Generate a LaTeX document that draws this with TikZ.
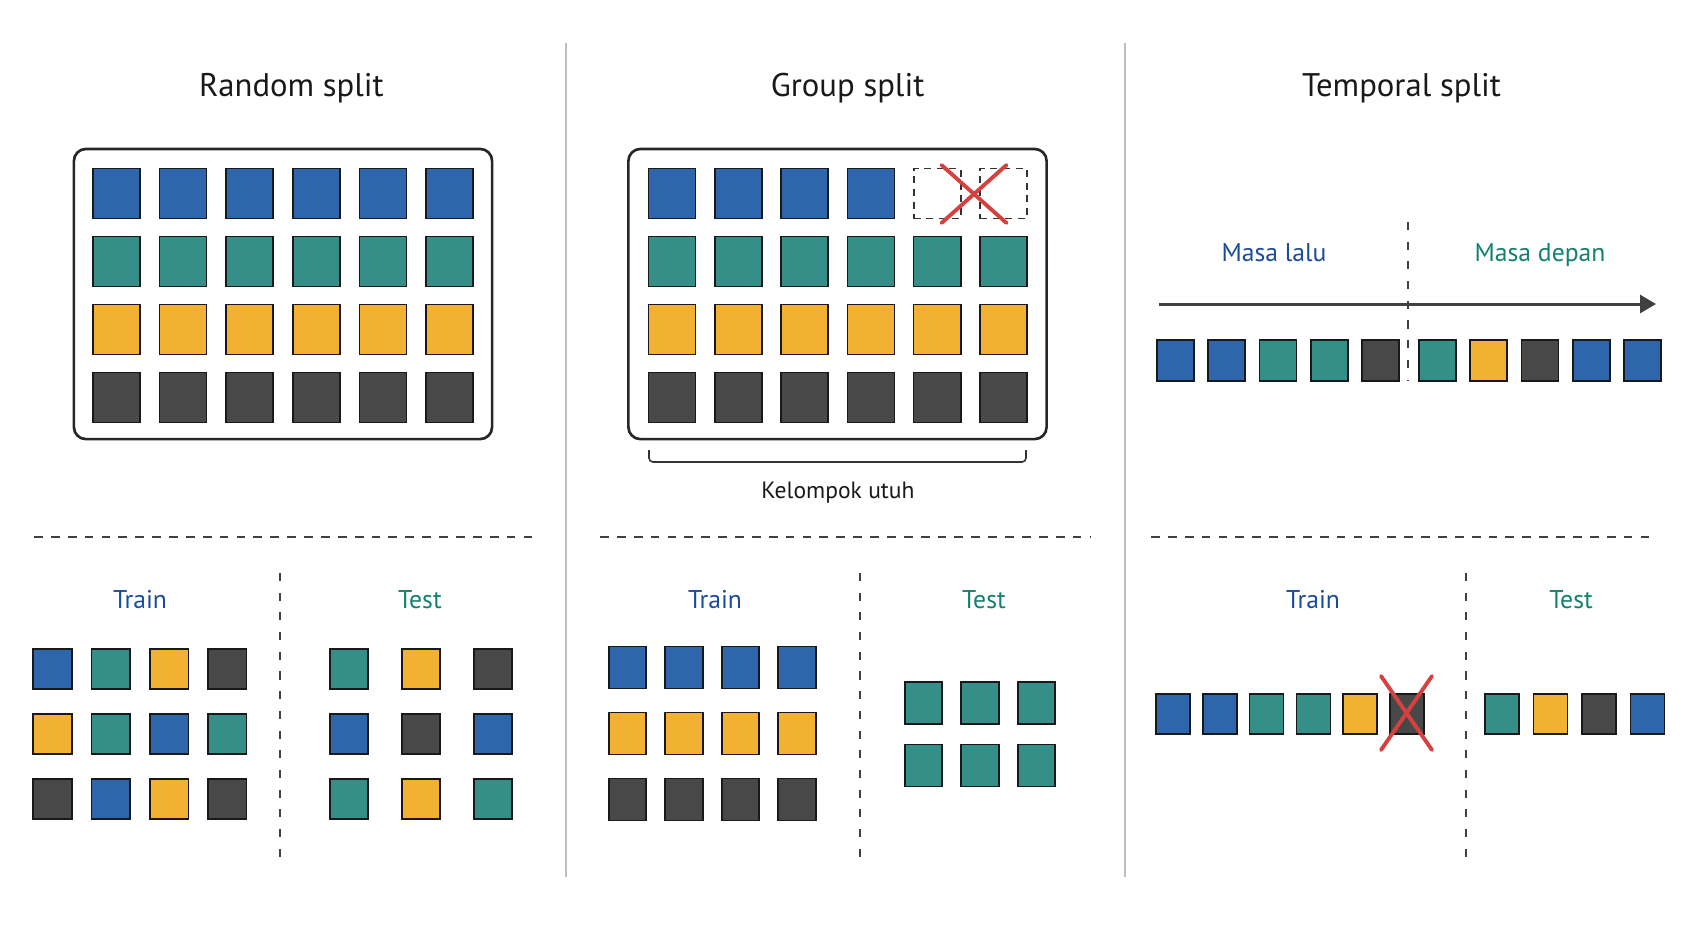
\documentclass[tikz,border=0pt]{standalone}
\usepackage{fontspec}
\setmainfont{PT Sans}
\usetikzlibrary{arrows.meta,positioning}
\definecolor{cB}{HTML}{2E66AC}
\definecolor{cT}{HTML}{358F88}
\definecolor{cY}{HTML}{F2B132}
\definecolor{cD}{HTML}{484848}
\definecolor{tBlue}{HTML}{1B4C9A}
\definecolor{tTeal}{HTML}{13806F}
\definecolor{xRed}{HTML}{D6413F}
\definecolor{sepGray}{HTML}{BDBDBD}
\tikzset{
  cell/.style={draw=black!90,line width=0.45pt,inner sep=0pt},
  bigcell/.style={cell,minimum width=0.47cm,minimum height=0.5cm},
  gone/.style={draw=black!80,line width=0.55pt,dash pattern=on 2pt off 1.6pt,inner sep=0pt,minimum width=0.47cm,minimum height=0.5cm},
  frame/.style={draw=black!85,line width=0.75pt,rounded corners=0.12cm,inner sep=0pt,minimum width=4.18cm,minimum height=2.9cm},
  title/.style={font=\fontsize{9.3}{11}\selectfont,text=black!90,text height=0.75em,text depth=0.25em},
  lbl/.style={font=\fontsize{7.3}{9}\selectfont,text height=0.75em,text depth=0.25em},
  note/.style={font=\fontsize{6.7}{8}\selectfont,text=black!90,text height=0.75em,text depth=0.25em},
  sep/.style={draw=sepGray,line width=0.45pt},
  cut/.style={draw=black!75,line width=0.55pt,dash pattern=on 2.5pt off 2.3pt},
  vcut/.style={draw=black!75,line width=0.55pt,dash pattern=on 2.3pt off 3.3pt},
  xmark/.style={draw=xRed,line width=1.1pt,line cap=round},
  timeline/.style={draw=black!75,line width=0.85pt,-{Triangle[length=0.16cm,width=0.18cm]}},
  bracket/.style={draw=black!80,line width=0.45pt,rounded corners=0.04cm}
}
\begin{document}
\begin{tikzpicture}[x=0.01cm,y=-0.01cm]
  \useasboundingbox (0,0) rectangle (1693,929);
  \draw[sep] (566,43) -- (566,877);
  \draw[sep] (1125,43) -- (1125,877);
  \foreach \xa/\xb in {34/540,600/1090,1151/1657}
    \draw[cut] (\xa,537) -- (\xb,537);
  \foreach \xv in {280,860,1466}
    \draw[vcut] (\xv,573) -- (\xv,858);
  \foreach \x/\t/\n in {291.5/Random split/r,847.6/Group split/g,1401.5/Temporal split/t}
    \node[title] (title-\n) at (\x,88) {\t};

  % random split
  \node[frame] (rbox) at (283,294) {};
  \foreach \c [count=\j] in {cB,cT,cY,cD}
    \foreach \i in {1,...,6}
      \node[bigcell,fill=\c] (r\j\i) at ({49.9+66.6*\i},{125.5+68*\j}) {};
  \node[lbl,text=tBlue] (rtrain) at (140,600) {Train};
  \node[lbl,text=tTeal] (rtest) at (420,600) {Test};
  \foreach \row [count=\j] in {{cB,cT,cY,cD},{cY,cT,cB,cT},{cD,cB,cY,cD}}
    \foreach \c [count=\i] in \row
      \node[cell,fill=\c,minimum width=0.385cm,minimum height=0.4cm] (rtr\j\i) at ({-5.8+58.3*\i},{604+65*\j}) {};
  \foreach \row [count=\j] in {{cT,cY,cD},{cB,cD,cB},{cT,cY,cT}}
    \foreach \c [count=\i] in \row
      \node[cell,fill=\c,minimum width=0.385cm,minimum height=0.4cm] (rte\j\i) at ({277+72*\i},{604+65*\j}) {};

  % group split
  \node[frame] (gbox) at (837.5,294) {};
  \foreach \i in {1,...,4}
    \node[bigcell,fill=cB] (g1\i) at ({605.7+66.3*\i},193.5) {};
  \foreach \i in {5,6}
    \node[gone] (g1\i) at ({605.7+66.3*\i},193.5) {};
  \foreach \c [count=\j from 2] in {cT,cY,cD}
    \foreach \i in {1,...,6}
      \node[bigcell,fill=\c] (g\j\i) at ({605.7+66.3*\i},{125.5+68*\j}) {};
  \draw[xmark] (941.5,165) -- (1006.5,223) (1006.5,165) -- (941.5,223);
  \draw[bracket] (649,450) -- (649,462) -- (1026,462) -- (1026,450);
  \node[note] (whole) at (838,490) {Kelompok utuh};
  \node[lbl,text=tBlue] (gtrain) at (715,600) {Train};
  \node[lbl,text=tTeal] (gtest) at (984,600) {Test};
  \foreach \c [count=\j] in {cB,cY,cD}
    \foreach \i in {1,...,4}
      \node[cell,fill=\c,minimum width=0.375cm,minimum height=0.42cm] (gtr\j\i) at ({571+56.5*\i},{601.5+66*\j}) {};
  \foreach \j in {1,2}
    \foreach \i in {1,2,3}
      \node[cell,fill=cT,minimum width=0.375cm,minimum height=0.42cm] (gte\j\i) at ({867+56.5*\i},{640.5+62.5*\j}) {};

  % temporal split
  \node[lbl,text=tBlue] (past) at (1274,253) {Masa lalu};
  \node[lbl,text=tTeal] (future) at (1540,253) {Masa depan};
  \draw[vcut] (1408,222) -- (1408,381);
  \coordinate (t0) at (1159,304);
  \coordinate (t1) at (1656,304);
  \draw[timeline] (t0) -- (t1);
  \foreach \c [count=\i] in {cB,cB,cT,cT,cD}
    \node[cell,fill=\c,minimum width=0.37cm,minimum height=0.41cm] (tp\i) at ({1124.25+51.25*\i},360.5) {};
  \foreach \c [count=\i] in {cT,cY,cD,cB,cB}
    \node[cell,fill=\c,minimum width=0.37cm,minimum height=0.41cm] (tf\i) at ({1386.25+51.25*\i},360.5) {};
  \node[lbl,text=tBlue] (ttrain) at (1313,600) {Train};
  \node[lbl,text=tTeal] (ttest) at (1571,600) {Test};
  \foreach \c [count=\i] in {cB,cB,cT,cT,cY,cD}
    \node[cell,fill=\c,minimum width=0.34cm,minimum height=0.4cm] (ttr\i) at ({1126.2+46.8*\i},714) {};
  \draw[xmark] (1381,676) -- (1432,750) (1432,676) -- (1381,750);
  \foreach \c [count=\i] in {cT,cY,cD,cB}
    \node[cell,fill=\c,minimum width=0.34cm,minimum height=0.4cm] (tte\i) at ({1453.5+48.5*\i},714) {};
\end{tikzpicture}
\end{document}
